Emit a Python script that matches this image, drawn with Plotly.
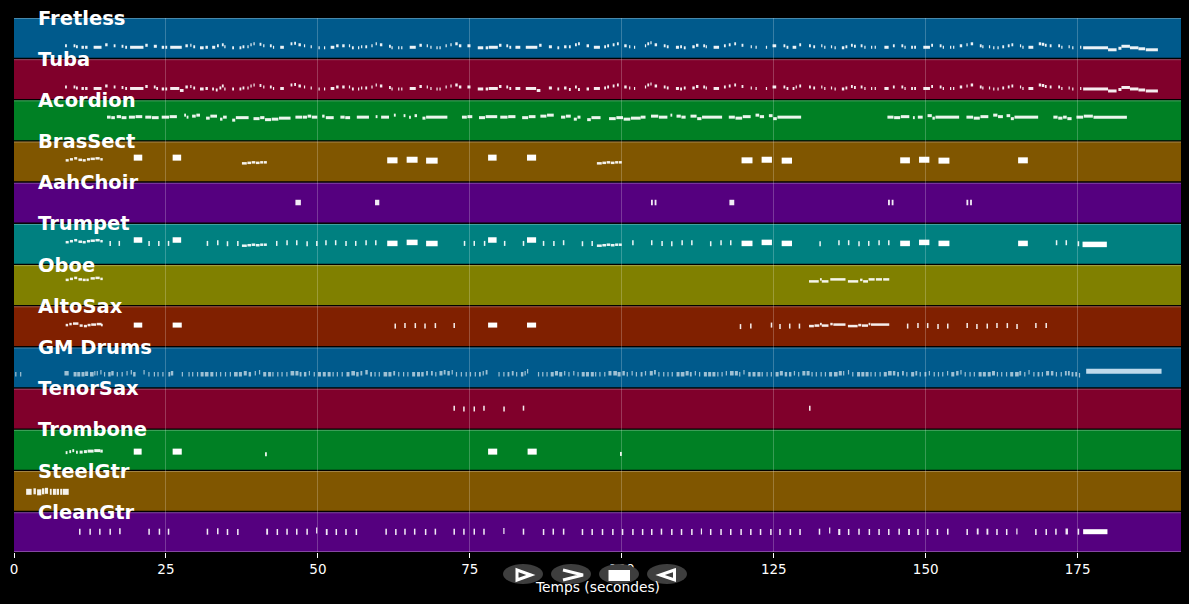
"""
Piano-roll view of a MIDI file, one lane per instrument, with the transport
buttons floating over the time axis.
"""

import plotly.graph_objects as go


# ── Tracks, top to bottom ─────────────────────────────────────────────────────

TRACKS = ["Fretless", "Tuba", "Acordion", "BrasSect", "AahChoir", "Trumpet", "Oboe",
          "AltoSax", "GM Drums", "TenorSax", "Trombone", "SteelGtr", "CleanGtr"]
LANE_COLORS = ["#005a8c", "#80002b", "#008024", "#805600", "#55007f", "#008080", "#808000",
               "#802000", "#005a8c", "#80002b", "#008024", "#805600", "#55007f"]
TIME_TICKS = [0, 25, 50, 75, 100, 125, 150, 175]
X_TITLE = "Temps (secondes)"

# Notes are (start s, length s, pitch height in the lane)

FRETLESS = [
    (8.4, .3, 12), (9.8, .3, 12), (10.2, .3, 11), (11.1, .4, 10.5), (11.7, .4, 10.5), (13.1, 1.3, 10.5),
    (15, .4, 13), (16.4, .3, 12), (17.7, .3, 11.5), (18.3, .3, 10.5), (19.1, 2.2, 10.5), (21.6, .4, 12.5),
    (23, .5, 11.5), (24.3, .4, 10.5), (24.9, .3, 10.5), (25.7, 1.9, 10.5), (28.2, .4, 12), (29, .2, 12.5),
    (29.5, .3, 11), (30.6, .6, 10), (31.5, .4, 10.5), (32.6, .5, 10.5), (33.4, .3, 12), (34.2, .3, 13),
    (34.6, .2, 11), (35.9, .3, 10), (37.1, .3, 10), (37.6, .3, 11), (38.4, .2, 11), (38.9, .2, 13),
    (39.4, .2, 14), (40.4, .3, 13.5), (41, .2, 12), (42.1, .3, 12), (42.6, .2, 10.5), (43.8, .6, 10.5),
    (45.5, .3, 14), (46.1, .3, 14.5), (46.8, .4, 13), (47.7, .2, 12), (48.8, .2, 11), (50.1, .2, 10),
    (51, .2, 10), (52.1, .6, 10.5), (53, .4, 12), (54, .4, 12), (55.1, .2, 12), (55.6, .3, 10),
    (56.6, .2, 10), (57.1, .2, 11), (57.8, .3, 11), (58.8, .2, 12), (59.5, .2, 14), (60.2, .4, 13),
    (61.7, .3, 11.5), (62.1, .2, 10), (63.2, .2, 10), (63.7, .2, 10), (65.1, 1, 10.5), (66.7, .4, 12.5),
    (67.9, .2, 12), (68.5, .2, 10.5), (69.5, .2, 10), (70, .2, 10), (71, .2, 12), (71.8, .2, 13),
    (72.6, .4, 14), (73.2, .4, 12), (74.6, .5, 12), (76.3, .9, 10), (77.6, .4, 10), (78.1, 1.5, 10.5),
    (79.8, .4, 12.5), (81, .3, 12), (81.5, .3, 10.5), (82.5, .8, 10.5), (84.2, 1.9, 10.5), (86.4, .4, 12.5),
    (88, .5, 11), (89.4, .3, 10), (90.5, .4, 11), (91.3, .3, 11), (92.3, .3, 13), (92.8, .3, 14),
    (94.2, .4, 12), (95.4, 1, 10.5), (97.1, .3, 11), (97.6, .3, 12), (98.5, .3, 13), (99.2, .3, 14),
    (100.4, .4, 12), (101.2, .2, 11), (102, .2, 10.5), (103.8, .2, 12), (104.2, .3, 14), (104.7, .2, 15),
    (105.4, .4, 13), (106.9, .3, 12), (107.4, .3, 11), (108.9, .5, 10.5), (109.6, .3, 11), (110.2, .3, 10),
    (111.6, .4, 11), (112.2, .4, 12.5), (113.4, .3, 12), (113.8, .2, 11), (115.1, .9, 10.5), (116.8, .3, 12),
    (117.6, .3, 13), (118.5, .3, 14), (119.7, .3, 12.5), (121.2, .2, 11), (122, .2, 10.5), (123.7, .2, 10.5),
    (124.8, .6, 12), (126.6, .3, 12), (127.1, .3, 10.5), (128.1, .6, 10.5), (129.2, .3, 13), (130.8, .3, 12),
    (131.5, .3, 11), (132.8, .2, 12), (133.3, .2, 10.5), (134.4, .2, 11), (135, .2, 10), (136.2, .4, 10),
    (136.8, .3, 11), (137.7, .3, 12.5), (138.2, .3, 11.5), (139.3, .3, 12), (139.9, .2, 10.5), (141, .2, 10.5),
    (141.6, .2, 10.5), (143.2, .7, 10.5), (144.6, .3, 12), (146, .3, 12), (146.5, .2, 10.5), (147.6, .3, 10.5),
    (148.1, .3, 10.5), (149.6, 1.1, 10.5), (150.9, .3, 12.5), (152.3, .3, 12), (152.8, .2, 10.5), (154, .2, 10.5),
    (154.5, .2, 10.5), (155.6, .4, 12), (156.7, .2, 13), (157.4, .4, 14), (158.9, .3, 12), (159.3, .2, 11),
    (160.4, .2, 11), (161.1, .2, 10), (161.8, .2, 10), (162.6, .3, 11), (163.5, .3, 12), (164.1, .3, 13),
    (165.5, .2, 12), (165.9, .2, 10.5), (166.9, .8, 10.5), (168.6, .4, 14), (169.1, .4, 13.5), (169.6, .3, 12.5),
    (170.4, .3, 12), (171.8, .3, 12), (172.3, .2, 10.5), (173.5, .2, 11), (174.1, .2, 10), (175.4, .2, 10.5),
    (175.9, 4.1, 10), (180, 1.4, 8), (181.7, .5, 9.5), (182.2, 1.4, 11.5), (183.6, 1.4, 10), (185, 1.1, 9),
    (186.2, 2, 8),
]

TUBA = [
    (8.4, .3, 12), (9.8, .3, 12), (10.2, .3, 11), (11.1, .4, 10.5), (11.7, .4, 10.5), (13.1, 1.3, 10.5),
    (15, .4, 13), (16.4, .3, 12), (17.7, .3, 11.5), (18.3, .3, 10.5), (19.1, 2.2, 10.5), (21.6, .4, 12.5),
    (23, .3, 12), (23.4, .3, 10.5), (24.3, .4, 10), (24.9, .3, 10), (25.7, 1.5, 10.5), (27.3, .6, 8.5),
    (28.2, .4, 12), (29, .2, 12.5), (29.5, .3, 11), (30.6, .6, 10), (31.5, .4, 10.5), (32.6, .3, 10),
    (33.2, .3, 9), (33.8, .3, 11), (34.2, .3, 13), (34.6, .2, 10), (35.9, .3, 10), (37.1, .3, 10),
    (37.6, .3, 11), (38.4, .2, 11), (38.9, .2, 13), (39.4, .2, 14), (40.4, .3, 13.5), (41, .2, 12),
    (42.1, .3, 12), (42.6, .2, 10.5), (43.8, .6, 10.5), (45.5, .3, 14), (46.1, .3, 14.5), (46.8, .4, 13),
    (47.7, .2, 12), (48.8, .2, 11), (50.1, .2, 10), (51, .2, 10), (52.1, .6, 10.5), (53, .4, 12),
    (54, .4, 12), (55.1, .2, 12), (55.6, .3, 10), (56.6, .2, 10), (57.1, .2, 11), (57.8, .3, 11),
    (58.8, .2, 12), (59.5, .2, 14), (60.2, .4, 13), (61.7, .3, 11.5), (62.1, .2, 10), (63.2, .2, 10),
    (63.7, .2, 10), (65.1, 1, 10.5), (66.7, .4, 12.5), (67.9, .2, 12), (68.5, .2, 10.5), (69.5, .2, 10),
    (70, .2, 10), (71, .2, 12), (71.8, .2, 13), (72.6, .4, 14), (73.2, .4, 12), (74.6, .5, 12),
    (76.3, .9, 10), (77.6, .4, 10), (78.1, 1.5, 10.5), (79.8, .4, 12.5), (81, .3, 12), (81.5, .3, 10.5),
    (82.5, .8, 10.5), (84.2, 1.7, 10.5), (86, .6, 8.5), (88, .5, 11), (89.4, .3, 10), (90.5, .4, 11),
    (91.3, .3, 9.5), (92.3, .3, 12), (92.8, .3, 9.5), (94.2, .4, 10), (95.4, 1, 10.5), (97.1, .3, 11),
    (97.6, .3, 12), (98.5, .3, 13), (99.2, .3, 14), (100.4, .4, 12), (101.2, .2, 11), (102, .2, 10.5),
    (103.8, .2, 12), (104.2, .3, 14), (104.7, .2, 15), (105.4, .4, 13), (106.9, .3, 12), (107.4, .3, 11),
    (108.9, .5, 10.5), (109.6, .3, 10), (110.2, .3, 11), (111.6, .4, 11), (112.2, .4, 12.5), (113.4, .3, 12),
    (113.8, .2, 11), (115.1, .9, 10.5), (116.8, .3, 12), (117.6, .3, 13), (118.5, .3, 14), (119.7, .3, 12.5),
    (121.2, .2, 11), (122, .2, 10.5), (123.7, .2, 10.5), (124.8, .6, 12), (126.6, .3, 12), (127.1, .3, 10.5),
    (128.1, .3, 10.5), (128.6, .2, 12), (129.2, .3, 13), (130.8, .3, 12), (131.5, .3, 11), (132.8, .2, 12),
    (133.3, .2, 10.5), (134.4, .2, 11), (135, .2, 10), (136.2, .4, 10), (136.8, .3, 11), (137.7, .3, 12.5),
    (138.2, .3, 11.5), (139.3, .3, 12), (139.9, .2, 10.5), (141, .2, 10.5), (141.6, .2, 10.5), (143.2, .7, 10.5),
    (144.6, .3, 12), (146, .3, 12), (146.5, .2, 10.5), (147.6, .3, 10.5), (148.1, .3, 10.5), (149.6, 1.1, 10.5),
    (150.9, .3, 12.5), (152.3, .3, 12), (152.8, .2, 10.5), (154, .2, 10.5), (154.5, .2, 10.5), (155.6, .4, 12),
    (156.7, .2, 13), (157.4, .4, 14), (158.9, .3, 12), (159.3, .2, 11), (160.4, .2, 11), (161.1, .2, 10),
    (161.8, .2, 10), (162.6, .3, 11), (163.5, .3, 12), (164.1, .3, 13), (165.5, .2, 12), (165.9, .2, 10.5),
    (166.9, .8, 10.5), (168.6, .4, 14), (169.1, .4, 13.5), (169.6, .3, 12.5), (170.4, .3, 12), (171.8, .3, 12),
    (172.3, .2, 10.5), (173.5, .2, 11), (174.1, .2, 10), (175.4, .2, 10.5), (175.9, 4.1, 10), (180, 1.4, 8),
    (181.7, .5, 9.5), (182.2, 1.4, 11.5), (183.6, 1.4, 10), (185, 1.1, 9), (186.2, 2, 8),
]

ACORDION = [
    (15.3, .6, 23), (16, .6, 22.5), (16.9, .7, 23.5), (17.7, .8, 22.5), (18.9, 1, 23), (20, 1.1, 23.5),
    (21.6, 1, 23), (22.7, 1.1, 22.5), (24.3, 1.2, 23), (25.6, 1.2, 23.5), (28, .3, 25), (28.4, .3, 23),
    (29.3, .6, 24), (30, .6, 25), (31.6, .6, 22), (32.3, 1.1, 24), (33.9, .4, 21), (34.4, .6, 23),
    (35.9, .5, 20), (36.5, 2.1, 22.5), (39.4, 1, 21.5), (40.5, .7, 22.5), (41.3, 1, 20.5), (42.4, 1.1, 21),
    (43.6, 1.9, 22), (46.3, 1.1, 23), (47.5, .7, 23), (48.3, .6, 24), (49, .9, 23), (50.7, .4, 24),
    (51.3, 1.3, 22.5), (53.7, .7, 23), (54.5, .8, 22.5), (56.4, 2, 23), (59.5, .3, 23.5), (60.4, 1.3, 23),
    (62.5, .3, 25), (64.1, .3, 24.5), (65, .3, 23), (65.9, .4, 24.5), (67.2, .5, 22), (67.8, 3.5, 23),
    (73.7, .8, 23), (74.6, .8, 23.5), (76.5, 1, 22.5), (77.6, 1.9, 23.5), (80, 1.2, 23), (81.3, 1.2, 23.5),
    (83.6, 1, 22.5), (84.7, 1.1, 23.5), (86.6, 1, 24), (87.7, 1.1, 25), (90, .7, 23), (90.8, .8, 24),
    (92.1, .5, 21), (92.7, .5, 23), (94.3, .6, 20.5), (95, 1.5, 22.5), (97.9, 1.1, 21.5), (99.1, 1.1, 22.5),
    (100.3, 1.1, 21), (101.5, 1.6, 22), (103.1, .8, 23), (104.8, 1.2, 24), (106.1, 1.4, 23), (108, .3, 25),
    (109, .7, 24), (109.8, .7, 23), (111.3, 1, 24), (112.4, .7, 21.5), (113.2, 3.3, 23), (117.6, 1, 23),
    (118.7, 1.1, 22), (119.9, 1.3, 23.5), (122, .6, 25), (122.7, .7, 23.5), (124.2, .6, 24.5), (124.9, .6, 21.5),
    (125.6, 3.9, 23), (143.7, 1, 23), (144.8, 1, 22.5), (145.9, 1.4, 23.5), (147.9, .3, 22.5), (148.7, .8, 23),
    (150.3, .7, 24.5), (151.1, .4, 22), (151.6, 3.9, 23), (156.7, 1.1, 23), (157.9, 1, 22), (159, 1.3, 23.5),
    (161.1, .7, 25), (161.9, .8, 23.5), (163.3, .6, 24.5), (164, .5, 21.5), (164.6, 3.9, 23), (171, .7, 23),
    (171.8, .7, 22), (172.6, .6, 23), (173.3, .7, 21.5), (174.8, 1.1, 23), (176, 1.5, 24), (177.6, 5.5, 23),
]

BRASS_RUNS = [
    (8.5, .5, 21), (9.2, .5, 22), (9.9, .5, 23), (10.6, .6, 21.5), (11.3, .5, 21), (12, .5, 22),
    (12.6, .7, 22.5), (13.4, .7, 23), (14.2, .4, 22), (37.5, .8, 18), (38.4, .6, 18.5), (39.1, .6, 19),
    (39.8, .6, 18.5), (40.5, .5, 19), (41.1, .5, 19), (95.9, .8, 18), (96.8, .6, 18.5), (97.5, .6, 19),
    (98.2, .6, 18.5), (98.9, .5, 19), (99.5, .5, 19),
]

BRASS_BLOCKS = [
    (19.7, 1.4, 23.7), (26.1, 1.4, 23.7), (61.4, 1.7, 21), (64.6, 1.8, 21.6), (67.8, 1.9, 20.7),
    (78, 1.4, 23.7), (84.4, 1.5, 23.7), (119.7, 1.8, 21), (123, 1.7, 21.6), (126.3, 1.7, 20.7),
    (145.8, 1.6, 21), (148.9, 1.7, 21.6), (152.1, 1.8, 20.7), (165.2, 1.6, 21),
]

AAH_CHOIR = [
    (46.3, .9, 20), (59.4, .7, 20), (104.8, .3, 20), (105.4, .3, 20), (117.7, .8, 20),
    (143.8, .3, 20), (144.4, .3, 20), (156.7, .3, 20), (157.3, .3, 20),
]

TRUMPET_RUNS = [
    (8.5, .5, 21.5), (9.2, .5, 22.5), (9.9, .5, 23.5), (10.6, .6, 22), (11.3, .5, 21.5), (12, .5, 22.5),
    (12.6, .7, 23), (13.4, .7, 23.5), (14.2, .4, 22.5), (37.5, .8, 18), (38.4, .6, 18.5), (39.1, .6, 19),
    (39.8, .6, 18.5), (40.5, .5, 19), (41.1, .5, 19), (95.9, .8, 18), (96.8, .6, 18.5), (97.5, .6, 19),
    (98.2, .6, 18.5), (98.9, .5, 19), (99.5, .5, 19),
]

TRUMPET_TICKS = [
    (15.7, .25, 20.3), (17.2, .25, 20.3), (22.1, .25, 20.3), (23.7, .25, 20.3), (25.3, .25, 20.3),
    (31.7, .25, 20.3), (33.4, .25, 21), (35, .25, 20), (36.7, .25, 20.3), (43.1, .25, 20.3),
    (44.8, .25, 21), (46.4, .25, 21), (48.1, .25, 20), (49.7, .25, 20.3), (51.2, .25, 21),
    (52.8, .25, 21), (54.5, .25, 20.3), (56.1, .25, 20.3), (57.8, .25, 21), (59.4, .25, 21),
    (74, .25, 20.3), (75.6, .25, 20.3), (77.3, .25, 20.3), (80.6, .25, 20.3), (83.7, .25, 20.3),
    (87, .25, 20.3), (88.7, .25, 20.3), (90.3, .25, 21), (93.4, .25, 20), (95, .25, 20.3),
    (101.7, .25, 21), (104.8, .25, 21), (106.5, .25, 20.3), (108.1, .25, 20), (109.8, .25, 21),
    (111.4, .25, 21), (114.5, .25, 20), (116.2, .25, 21), (117.8, .25, 21), (132.5, .25, 20),
    (135.6, .25, 21), (137.2, .25, 21), (138.9, .25, 20), (140.5, .25, 20.3), (142.2, .25, 21),
    (143.8, .25, 21), (171.4, .25, 21), (173, .25, 21), (175, .25, 20),
]

TRUMPET_BLOCKS = [
    (19.7, 1.4, 23.7), (26.1, 1.4, 23.7), (61.4, 1.7, 20.3), (64.6, 1.8, 21.3), (67.8, 1.9, 20.2),
    (78, 1.4, 23.7), (84.4, 1.5, 23.7), (119.7, 1.8, 20.3), (123, 1.7, 21.3), (126.3, 1.7, 20.3),
    (145.8, 1.6, 20.3), (148.9, 1.7, 21.3), (152.1, 1.8, 20.3), (165.2, 1.6, 20.3), (175.8, 4, 19.3),
]

OBOE = [
    (8.5, .5, 25), (9.2, .5, 26), (9.9, .5, 27), (10.6, .6, 25.5), (11.3, .5, 25), (11.9, .4, 25),
    (12.6, .7, 26.5), (13.4, .7, 27), (14.2, .4, 26), (130.8, 1.6, 23.5), (132.6, .3, 25.5), (132.9, 1.1, 23.5),
    (134.3, 2.5, 25.5), (137.2, 1.7, 23.5), (139.2, .4, 25), (139.7, .8, 23.5), (140.6, 1, 25.5), (141.8, 1, 25.5),
    (143, 1, 25.5),
]

ALTO_RUNS = [
    (8.5, .4, 21), (9.1, .4, 22), (9.7, .9, 22.5), (10.8, .5, 20.5), (11.5, .5, 20), (12.1, .5, 21),
    (12.7, .8, 21.5), (13.6, .8, 22), (14.3, .3, 21), (130.8, .8, 20), (131.7, .8, 20.5), (132.6, .3, 22),
    (132.9, 1.1, 20.5), (134.3, .4, 22), (134.8, 2, 21.5), (137.2, 1.6, 20), (138.9, .5, 21), (139.5, 1, 20.5),
    (140.6, .3, 22), (141, 3, 21.5),
]

ALTO_TICKS = [
    (62.6, .25, 20), (64.2, .25, 20.5), (65.9, .25, 20.5), (67.5, .25, 20), (69.2, .25, 20.5), (72.3, .25, 20.5),
    (119.4, .25, 19.5), (121.1, .25, 20), (124.5, .25, 21), (125.9, .25, 19.5), (127.5, .25, 20), (129.1, .25, 20),
    (146.9, .25, 20), (148.6, .25, 20.5), (150.2, .25, 20.5), (151.9, .25, 19.5), (153.5, .25, 20), (156.7, .25, 20.5),
    (158.3, .25, 19.5), (160, .25, 20), (161.6, .25, 20.5), (163.3, .25, 20.5), (164.9, .25, 19.5), (168, .25, 20.5),
    (169.7, .25, 20.5),
]

ALTO_BLOCKS = [(19.7, 1.4, 21), (26.1, 1.5, 21), (78, 1.5, 21), (84.4, 1.5, 21)]

DRUM_HITS = [
    (.2, .2, 13), (1, .2, 13), (8.3, .7, 14), (9.8, .5, 13), (10.4, .5, 13), (11.1, .5, 13), (11.7, .5, 13.5),
    (12.5, .6, 13), (13.2, .2, 14), (13.6, .2, 14), (14.2, .2, 15), (14.8, .2, 13), (15.5, .4, 13), (16, .4, 14),
    (16.9, .2, 13), (17.7, .2, 13), (18.5, .2, 14), (19.2, .2, 15), (19.6, .4, 13), (21.3, .2, 15), (22.1, .2, 13),
    (23, .2, 13), (23.6, .2, 13), (24.4, .2, 13), (25.4, .3, 13), (25.8, .4, 14), (27.6, .2, 13), (28.7, .2, 13),
    (29.3, .2, 13), (30.1, .2, 13), (30.7, .5, 13), (31.4, .6, 13), (32.3, .5, 13), (33.2, .2, 13), (33.9, .2, 13),
    (34.7, .2, 13), (35.5, .2, 13), (36.2, .6, 13), (37, .5, 13), (37.8, .5, 14), (38.6, .4, 13), (39.6, .2, 14),
    (40.3, .2, 15), (41, .5, 13), (41.8, .5, 13), (42.5, .2, 13), (43.3, .2, 13), (44, .2, 13), (44.8, .2, 13),
    (45.5, .6, 14), (46.3, .5, 14), (47, .3, 13), (47.7, .4, 13), (48.5, .2, 14), (49.3, .2, 13), (50, .5, 13),
    (50.8, .5, 13), (51.6, .5, 13), (52.4, .2, 13), (53.1, .2, 13), (53.9, .2, 13), (54.7, .5, 13), (55.5, .6, 14),
    (56.3, .4, 13), (57, .3, 14), (57.8, .4, 15), (58.6, .3, 13), (59.3, .2, 13), (60, .2, 13), (60.8, .6, 13),
    (61.6, .5, 13), (62.4, .3, 14), (63.2, .2, 13), (64, .2, 13), (64.7, .2, 13), (65.5, .5, 13), (66.3, .5, 13),
    (67, .4, 13), (67.8, .3, 14), (68.6, .3, 14), (69.3, .2, 13), (70, .5, 14), (70.7, .3, 15), (71.3, .4, 14),
    (72, .2, 15), (72.7, .2, 13), (73.5, .2, 13), (74.3, .2, 13), (75, .2, 13), (75.8, .2, 13), (76.5, .3, 13),
    (77.1, .2, 14), (77.6, .3, 15), (79.7, .2, 13), (80.5, .2, 13), (81.2, .3, 13), (81.9, .3, 14), (82.6, .2, 13),
    (83.4, .4, 13), (84, .2, 14), (84.4, .2, 16), (86.2, .2, 13), (86.9, .2, 13), (87.6, .2, 13), (88.3, .5, 13),
    (89, .5, 14), (89.7, .5, 13), (90.5, .2, 14), (91.2, .2, 13), (92, .2, 14), (92.7, .2, 13), (93.4, .5, 13),
    (94.1, .5, 13), (94.9, .5, 13), (95.6, .2, 13), (96.3, .2, 13), (97.1, .2, 13), (97.8, .5, 14), (98.6, .6, 14),
    (99.3, .5, 13), (100.1, .4, 14), (100.8, .2, 13), (101.6, .2, 14), (102.3, .2, 13), (103.1, .3, 13), (103.8, .2, 14),
    (104.6, .5, 14), (105.3, .3, 15), (106, .2, 13), (106.8, .2, 13), (107.5, .2, 13), (108.2, .2, 13), (109, .5, 13),
    (109.7, .6, 13), (110.5, .5, 14), (111.2, .3, 13), (112, .2, 14), (112.7, .2, 13), (113.5, .5, 13), (114.2, .5, 13),
    (114.9, .5, 13), (115.7, .2, 13), (116.4, .2, 13), (117.1, .2, 14), (117.8, .6, 14), (118.6, .5, 14), (119.3, .2, 13),
    (120, .2, 15), (120.8, .4, 13), (121.5, .5, 13), (122.3, .5, 13), (123, .2, 13), (123.8, .2, 13), (124.5, .2, 13),
    (125.3, .5, 13), (126, .5, 14), (126.8, .4, 13), (127.5, .4, 13), (128.3, .2, 14), (129, .2, 13), (129.7, .5, 14),
    (130.4, .5, 14), (131.2, .2, 13), (131.9, .2, 13), (132.7, .2, 13), (133.4, .2, 13), (134.1, .5, 13), (134.9, .6, 13),
    (135.7, .5, 14), (136.4, .2, 14), (137.2, .2, 15), (137.9, .2, 13), (138.7, .5, 13), (139.4, .5, 13), (140.1, .5, 13),
    (140.9, .2, 13), (141.6, .2, 13), (142.4, .2, 13), (143.1, .5, 13), (143.8, .6, 14), (144.6, .4, 14), (145.3, .3, 13),
    (146.1, .3, 14), (146.8, .2, 13), (147.6, .5, 13), (148.3, .3, 14), (149, .2, 13), (149.8, .3, 13), (150.5, .2, 14),
    (151.3, .2, 13), (152, .2, 13), (152.7, .2, 13), (153.5, .2, 14), (154.2, .5, 13), (155, .4, 14), (155.7, .2, 15),
    (156.4, .2, 13), (157.2, .2, 13), (157.9, .2, 13), (158.7, .5, 13), (159.4, .5, 13), (160.2, .5, 13), (160.9, .5, 14),
    (161.7, .2, 13), (162.4, .2, 13), (163.2, .2, 13), (163.9, .5, 13), (164.7, .6, 13), (165.4, .3, 14), (166.2, .2, 13),
    (166.9, .2, 15), (167.7, .2, 13), (168.4, .3, 13), (169.1, .2, 13), (169.8, .5, 14), (170.6, .4, 14), (171.4, .2, 13),
    (172.2, .2, 13), (172.9, .3, 14), (173.4, .3, 14), (174, .3, 13), (174.6, .3, 13), (175.2, .2, 12),
]

DRUM_ROLL = [(176.4, 12.4, 16)]

TENOR_SAX = [(72.3, .25, 20.3), (73.9, .25, 19.5), (75.6, .25, 19.5), (77.2, .25, 20.3), (80.5, .25, 19.5),
             (83.7, .25, 20.3), (130.8, .25, 20.3)]

TROMBONE_RUNS = [
    (8.5, .3, 17), (9.1, .3, 18), (9.6, .3, 19), (10.2, .3, 17.5), (10.8, .5, 17.5), (11.5, .5, 18),
    (12.1, 1, 18.5), (13.2, 1, 19), (14.2, .4, 18.5),
]

TROMBONE_BLOCKS = [(19.7, 1.3, 18), (26.1, 1.5, 18), (78, 1.5, 18), (84.5, 1.5, 18)]

TROMBONE_DOTS = [(41.3, .3, 15.3), (99.7, .3, 15.7)]

STEEL_GTR = [
    (2, .9, 19), (3.2, .4, 19.5), (3.8, .7, 18.5), (4.6, .4, 19.5), (5.1, .5, 20), (5.9, .3, 19),
    (6.4, .5, 19), (7, .4, 19), (7.6, .3, 19), (8, 1, 19),
]

CLEAN_TICKS = [
    (10.7, .25, 20.3), (12.4, .25, 20.3), (14, .25, 20.3), (15.7, .25, 20.3), (17.3, .25, 20.8), (22.1, .25, 20.3),
    (23.8, .25, 20.3), (25.3, .25, 20.3), (31.7, .25, 20.3), (33.4, .25, 20.8), (35, .25, 20), (36.7, .25, 20),
    (41.5, .3, 20.3), (43.2, .25, 20), (44.8, .25, 20.3), (46.4, .25, 20.3), (48.1, .25, 20.3), (49.7, .2, 21.5),
    (51.3, .3, 20), (52.9, .25, 20), (54.5, .25, 20), (56.2, .25, 20), (61.1, .25, 20.3), (62.7, .25, 20),
    (64.2, .25, 20.3), (65.8, .25, 20.3), (67.6, .25, 20), (69.2, .25, 20.3), (72.3, .25, 20.3), (73.9, .25, 20.3),
    (75.6, .25, 20.3), (77.2, .25, 20.3), (80.5, .2, 21), (83.7, .25, 20.3), (87, .25, 20), (88.6, .25, 20.3),
    (90.3, .25, 20.3), (93.4, .25, 20), (95, .25, 20), (96.7, .25, 20), (98.4, .25, 20), (100, .25, 20),
    (101.7, .25, 20), (103.3, .25, 20), (104.8, .25, 20), (106.4, .25, 20.3), (108.1, .25, 20), (109.7, .25, 20),
    (111.4, .25, 20), (113, .2, 20.5), (114.5, .25, 20), (116.2, .25, 20), (117.8, .25, 20), (119.5, .25, 20),
    (121.1, .25, 20), (122.7, .25, 20), (124.4, .25, 20), (125.9, .25, 20), (127.6, .25, 20), (129.2, .25, 20),
    (132.4, .25, 20.3), (134.1, .2, 21.5), (135.6, .35, 20), (137.2, .25, 20), (138.9, .25, 20.3), (140.6, .25, 20),
    (142.2, .25, 20), (143.8, .25, 20), (145.5, .25, 20.3), (147.1, .3, 20), (148.6, .25, 20), (150.2, .25, 20),
    (151.8, .25, 20), (153.5, .25, 20.3), (156.7, .25, 20), (158.4, .3, 20.5), (160, .3, 20.3), (161.6, .25, 20),
    (163.2, .25, 20), (164.9, .2, 20.5), (168, .25, 20), (169.7, .25, 20), (171.3, .25, 20.3), (173, .4, 20.5),
    (175, .25, 20.3),
]

CLEAN_ROLL = [(175.9, 4, 20.3)]


# ── Geometry of the page ──────────────────────────────────────────────────────

WIDTH, HEIGHT = 1189, 604
LEFT, RIGHT, TOP, BOTTOM = 14, 1181, 18, 552
X_MAX = 192
LANE_GAP = 1.4
LANE_PITCH = (BOTTOM - TOP + LANE_GAP) / len(TRACKS)
LANE_HEIGHT = LANE_PITCH - LANE_GAP
EDGE = dict(color="rgba(255,255,255,0.28)", width=1)

# (lane index, notes, drawn thickness in px, colour)
WHITE = "rgba(255,255,255,0.92)"
NOTE_GROUPS = [
    (0, FRETLESS, 3, WHITE),
    (1, TUBA, 3, WHITE),
    (2, ACORDION, 3, WHITE),
    (3, BRASS_RUNS, 2.5, WHITE),
    (3, BRASS_BLOCKS, 6, "white"),
    (4, AAH_CHOIR, 5.5, WHITE),
    (5, TRUMPET_RUNS, 2.5, WHITE),
    (5, TRUMPET_TICKS, 5, WHITE),
    (5, TRUMPET_BLOCKS, 5.5, "white"),
    (6, OBOE, 2.5, WHITE),
    (7, ALTO_RUNS, 2.5, WHITE),
    (7, ALTO_TICKS, 5, WHITE),
    (7, ALTO_BLOCKS, 5, "white"),
    (8, DRUM_HITS, 4.5, "rgba(255,255,255,0.62)"),
    (8, DRUM_ROLL, 5, "rgba(200,224,240,0.95)"),
    (9, TENOR_SAX, 5, WHITE),
    (10, TROMBONE_RUNS, 3, WHITE),
    (10, TROMBONE_BLOCKS, 6, "white"),
    (10, TROMBONE_DOTS, 4, WHITE),
    (11, STEEL_GTR, 6, WHITE),
    (12, CLEAN_TICKS, 6, WHITE),
    (12, CLEAN_ROLL, 5, "white"),
]


def lane_bottom(lane):
    """Bottom of a lane on the y axis, which runs in page pixels."""
    return (len(TRACKS) - 1 - lane) * LANE_PITCH


def notes_xy(lane, notes):
    """One horizontal segment per note, split with None gaps."""
    xs, ys = [], []
    for start, length, pitch in notes:
        xs += [start, start + length, None]
        ys += [lane_bottom(lane) + pitch, lane_bottom(lane) + pitch, None]
    return xs, ys


def px(x):
    return (x - LEFT) / (RIGHT - LEFT)


def py(y):
    return (BOTTOM - y) / (BOTTOM - TOP)


def paper_path(points, close=True):
    d = "M" + " L".join(f"{px(x):.5f},{py(y):.5f}" for x, y in points)
    return d + (" Z" if close else "")


# ── Figure ────────────────────────────────────────────────────────────────────

fig = go.Figure()

for lane, notes, thickness, color in NOTE_GROUPS:
    xs, ys = notes_xy(lane, notes)
    fig.add_trace(go.Scatter(
        x=xs, y=ys,
        mode="lines",
        line=dict(color=color, width=thickness),
        hoverinfo="skip",
        showlegend=False,
        name=TRACKS[lane],
    ))

shapes = []
annotations = []
for lane, (name, color) in enumerate(zip(TRACKS, LANE_COLORS)):
    bottom = lane_bottom(lane)
    lane_top = bottom + LANE_HEIGHT
    shapes.append(dict(
        type="rect", layer="below",
        xref="x domain", x0=0, x1=1,
        yref="y", y0=bottom, y1=lane_top,
        fillcolor=color,
        line=dict(width=0),
    ))
    shapes.append(dict(
        type="line", layer="below",
        xref="x domain", x0=0, x1=1,
        yref="y", y0=lane_top - 0.5, y1=lane_top - 0.5,
        line=EDGE,
    ))
    annotations.append(dict(
        text=f"<b>{name}</b>",
        xref="x", x=3.6, xanchor="left",
        yref="y", y=lane_top, yanchor="middle",
        showarrow=False,
        font=dict(family="DejaVu Sans", size=19.5, color="white"),
    ))

# bottom edge of the last lane
shapes.append(dict(
    type="line", layer="below",
    xref="x domain", x0=0, x1=1,
    yref="y", y0=0.5, y1=0.5,
    line=EDGE,
))

# ── Transport buttons over the axis ───────────────────────────────────────────

for cx in (523, 571, 619, 667):
    shapes.append(dict(
        type="circle", layer="above",
        xref="paper", yref="paper",
        x0=px(cx - 20), x1=px(cx + 20), y0=py(584), y1=py(564),
        fillcolor="rgb(62,62,62)", line=dict(width=0),
    ))

icon = dict(type="path", layer="above", xref="paper", yref="paper")
# play, outlined
shapes.append(dict(icon, path=paper_path([(517, 570), (531, 575), (517, 580)]),
                   fillcolor="rgb(62,62,62)", line=dict(color="white", width=3)))
# fast forward chevron
shapes.append(dict(icon, path=paper_path([(563, 570), (583, 575), (563, 580)], close=False),
                   line=dict(color="white", width=3)))
# stop
shapes.append(dict(icon, path=paper_path([(608.5, 570), (630, 570), (630, 581), (608.5, 581)]),
                   fillcolor="white", line=dict(width=0)))
# rewind, outlined
shapes.append(dict(icon, path=paper_path([(674.5, 570), (660, 575), (674.5, 580)]),
                   fillcolor="rgb(62,62,62)", line=dict(color="white", width=3)))

annotations.append(dict(
    text=X_TITLE,
    xref="paper", x=px(597), xanchor="center",
    yref="paper", y=py(587), yanchor="middle",
    showarrow=False,
    font=dict(family="DejaVu Sans", size=13.8, color="white"),
))

fig.update_layout(
    width=WIDTH,
    height=HEIGHT,
    margin=dict(l=LEFT, r=WIDTH - RIGHT, t=TOP, b=HEIGHT - BOTTOM),
    paper_bgcolor="black",
    plot_bgcolor="black",
    font=dict(family="DejaVu Sans", color="white", size=13),
    showlegend=False,
    shapes=shapes,
    annotations=annotations,
    xaxis=dict(
        range=[0, X_MAX],
        tickvals=TIME_TICKS,
        ticks="outside", ticklen=5, tickcolor="white", tickwidth=1,
        showgrid=True, gridcolor="rgba(255,255,255,0.22)", gridwidth=1,
        zeroline=False, showline=False,
        tickfont=dict(size=13.5, color="white"),
    ),
    yaxis=dict(
        range=[0, BOTTOM - TOP],
        visible=False,
        fixedrange=True,
    ),
)

fig.write_html(
    "out.html",
    config={"displayModeBar": False},
    post_script="document.body.style.margin='0';",
)
